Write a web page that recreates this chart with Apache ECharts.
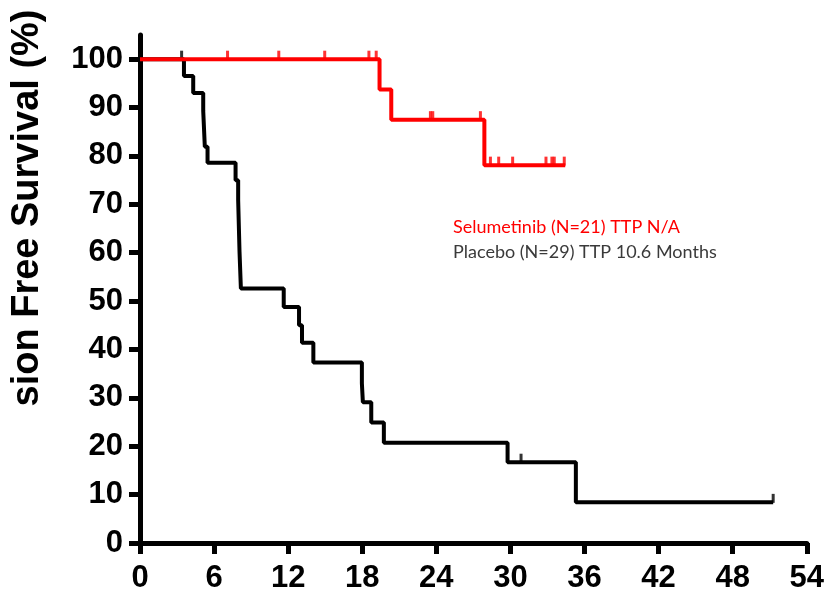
<!DOCTYPE html>
<html>
<head>
<meta charset="utf-8">
<script src="https://cdn.jsdelivr.net/npm/echarts@6/dist/echarts.min.js"></script>
<style>
  html, body { margin: 0; padding: 0; background: #fff; }
  #main { width: 827px; height: 597px; }
</style>
</head>
<body>
<div id="main"></div>
<script>
// axis ticks
var xTicks = [0, 6, 12, 18, 24, 30, 36, 42, 48, 54];
var yTicks = [0, 10, 20, 30, 40, 50, 60, 70, 80, 90, 100];

// Selumetinib (red) - step points and censor marks
var redTime = [0, 19.40, 20.35, 27.89, 34.44];
var redSurv = [100, 93.75, 87.5, 78.1, 78.1];
var redCensorTime = [7.09, 11.24, 14.96, 18.54, 19.13, 23.52, 23.71, 27.57, 28.38, 29.05, 30.18, 32.88, 33.36, 33.55, 34.36];
var redCensorSurv = [100, 100, 100, 100, 100, 87.5, 87.5, 87.5, 78.1, 78.1, 78.1, 78.1, 78.1, 78.1, 78.1];

// Placebo (black)
var blackTime = [0, 3.56, 4.31, 5.12, 5.25, 5.47, 7.74, 7.95, 8.06, 8.17, 11.64, 12.88, 13.12, 14.04, 17.97, 18.05, 18.73, 19.75, 29.77, 35.30, 51.28];
var blackSurv = [100, 96.5, 93.0, 89.3, 81.9, 78.6, 75.0, 70.9, 60.2, 52.6, 48.8, 45.0, 41.4, 37.3, 33.0, 29.1, 24.9, 20.7, 16.7, 8.4, 8.4];
var blackCensorTime = [3.37, 30.86, 51.28];
var blackCensorSurv = [100, 16.7, 8.4];

var legendLines = ['Selumetinib (N=21) TTP N/A', 'Placebo (N=29) TTP 10.6 Months'];
var yTitle = 'sion Free Survival (%)';

function pairs(a, b) {
  var out = [];
  for (var i = 0; i < a.length; i++) out.push([a[i], b[i]]);
  return out;
}

var tickFont = '"Liberation Sans", Arial, sans-serif';

var chart = echarts.init(document.getElementById('main'), null, { renderer: 'canvas' });

var option = {
  animation: false,
  backgroundColor: '#fff',
  grid: { left: 140, right: 19, top: 35, bottom: 54 },
  xAxis: {
    type: 'value',
    min: 0, max: 54, interval: 6,
    splitLine: { show: false },
    axisLine: { show: true, lineStyle: { color: '#000', width: 5 } },
    axisTick: { show: true, length: 11, lineStyle: { color: '#000', width: 5 }, customValues: xTicks },
    axisLabel: {
      customValues: xTicks,
      margin: 20,
      color: '#000', fontSize: 31, fontWeight: 'bold', fontFamily: tickFont
    }
  },
  yAxis: {
    type: 'value',
    min: 0, max: 105, interval: 10,
    splitLine: { show: false },
    axisLine: { show: true, lineStyle: { color: '#000', width: 5 } },
    axisTick: { show: true, length: 11, lineStyle: { color: '#000', width: 5 }, customValues: yTicks },
    axisLabel: {
      customValues: yTicks,
      margin: 17,
      color: '#000', fontSize: 31, fontWeight: 'bold', fontFamily: tickFont
    }
  },
  graphic: [
    {
      type: 'text', x: 28, y: 208, rotation: Math.PI / 2,
      style: {
        text: yTitle, fill: '#000',
        font: 'bold 38px "Liberation Sans", Arial, sans-serif',
        align: 'center', verticalAlign: 'middle'
      }
    },
    {
      type: 'text', left: 453, top: 218,
      style: { text: legendLines[0], fill: '#ff0000', font: '18px Lato, "Open Sans", sans-serif' }
    },
    {
      type: 'text', left: 453, top: 243,
      style: { text: legendLines[1], fill: '#3a3a3a', font: '18px Lato, "Open Sans", sans-serif' }
    }
  ],
  series: [
    {
      name: 'Placebo', type: 'line', step: 'end',
      data: pairs(blackTime, blackSurv),
      symbol: 'none', showSymbol: false,
      lineStyle: { color: '#000', width: 4 },
      z: 2
    },
    {
      name: 'Placebo censored', type: 'scatter',
      data: pairs(blackCensorTime, blackCensorSurv),
      symbol: 'rect', symbolSize: [3, 9], symbolOffset: [0, -4],
      itemStyle: { color: '#000' },
      z: 2
    },
    {
      name: 'Selumetinib', type: 'line', step: 'end',
      data: pairs(redTime, redSurv),
      symbol: 'none', showSymbol: false,
      lineStyle: { color: '#ff0000', width: 4 },
      z: 3
    },
    {
      name: 'Selumetinib censored', type: 'scatter',
      data: pairs(redCensorTime, redCensorSurv),
      symbol: 'rect', symbolSize: [3, 9], symbolOffset: [0, -4],
      itemStyle: { color: '#ff0000' },
      z: 3
    }
  ]
};

chart.setOption(option);
</script>
</body>
</html>
